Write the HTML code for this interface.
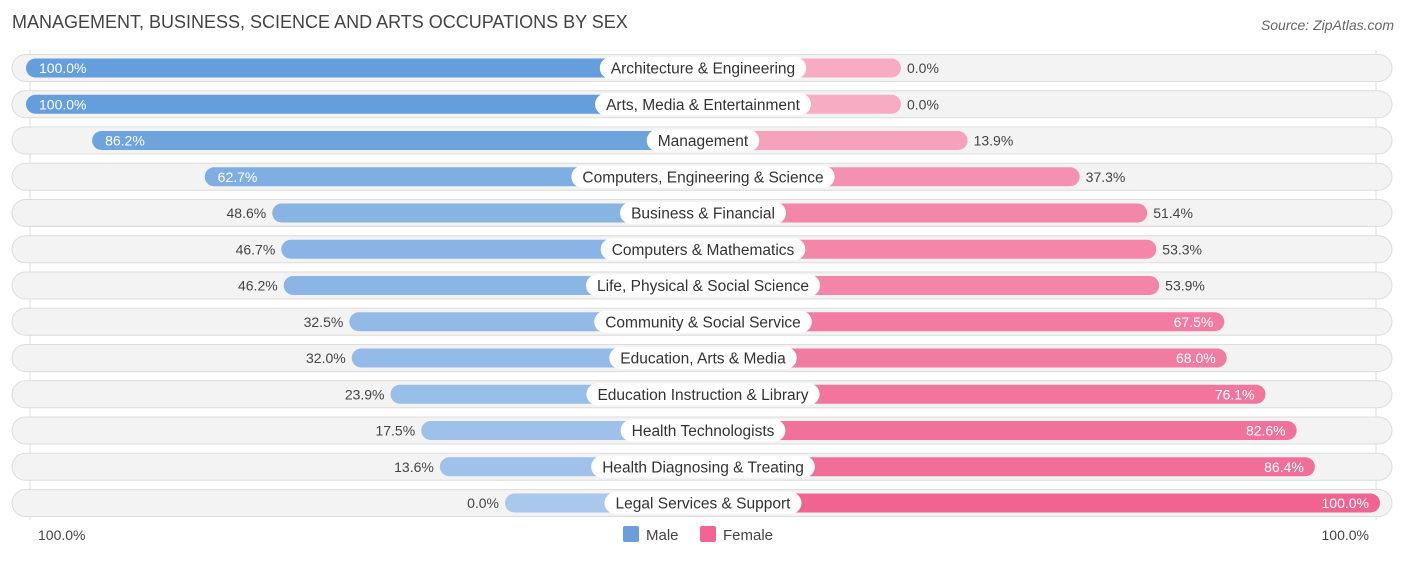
<!DOCTYPE html>
<html><head><meta charset="utf-8"><style>
body{margin:0;background:#fff;font-family:"Liberation Sans",Arial,sans-serif;}
svg text{font-family:"Liberation Sans",Arial,sans-serif;}
</style></head><body>
<svg id="c" width="1406" height="559" xmlns="http://www.w3.org/2000/svg">
<text x="12" y="28" font-size="18" fill="#444">MANAGEMENT, BUSINESS, SCIENCE AND ARTS OCCUPATIONS BY SEX</text>
<text x="1394" y="30" font-size="14" fill="#666" font-style="italic" text-anchor="end">Source: ZipAtlas.com</text>
<line x1="30" y1="50" x2="30" y2="520" stroke="#ddd"/>
<line x1="1376" y1="50" x2="1376" y2="520" stroke="#ddd"/>
<g id="rows"></g>
<text x="38" y="540" font-size="14" fill="#444">100.0%</text>
<text x="1369" y="540" font-size="14" fill="#444" text-anchor="end">100.0%</text>
<rect x="623" y="526" width="16" height="16" rx="2" fill="#6a9fdc"/>
<text x="646" y="540" font-size="15" fill="#444">Male</text>
<rect x="700" y="526" width="16" height="16" rx="2" fill="#f06594"/>
<text x="723" y="540" font-size="15" fill="#444">Female</text>
</svg>
<script>
const categories=["Architecture & Engineering","Arts, Media & Entertainment","Management","Computers, Engineering & Science","Business & Financial","Computers & Mathematics","Life, Physical & Social Science","Community & Social Service","Education, Arts & Media","Education Instruction & Library","Health Technologists","Health Diagnosing & Treating","Legal Services & Support"];
const maleValues=[100.0,100.0,86.2,62.7,48.6,46.7,46.2,32.5,32.0,23.9,17.5,13.6,0.0];
const femaleValues=[0.0,0.0,13.9,37.3,51.4,53.3,53.9,67.5,68.0,76.1,82.6,86.4,100.0];
const NS="http://www.w3.org/2000/svg";
const cx=703, base=198, scale=4.79, y0=68, step=36.25, bh=19;
function ext(v){return base+scale*v;}
function rowY(i){return y0+step*i;}
function mix(a,b,t){return a.map((x,k)=>Math.round(b[k]+(x-b[k])*t));}
function rgb(c){return "rgb("+c.join(",")+")";}
const g=document.getElementById("rows");
function mk(tag,attrs){const e=document.createElementNS(NS,tag);for(const k in attrs)e.setAttribute(k,attrs[k]);g.appendChild(e);return e;}
categories.forEach((cat,i)=>{
  const y=rowY(i);
  const bg=mk("rect",{x:12,y:y-13.5,width:1380,height:27,rx:13.5,fill:"#f3f3f3",stroke:"#dcdcdc"});
  
  
  const m=maleValues[i], f=femaleValues[i];
  const mw=ext(m);
  const mb=mk("rect",{x:cx-mw,y:y-bh/2,width:mw,height:bh,rx:bh/2,fill:rgb(mix([100,158,220],[170,200,236],m/100))});
  
  
  const fw=ext(f);
  const fb=mk("rect",{x:cx,y:y-bh/2,width:fw,height:bh,rx:bh/2,fill:rgb(mix([240,100,146],[247,172,196],f/100))});
  
  
  // labels
  const mt=mk("text",{y:y+5,"font-size":14});
  if(m>=60){mt.setAttribute("x",cx-mw+13);mt.setAttribute("fill","#fff");}
  else{mt.setAttribute("x",cx-mw-6);mt.setAttribute("text-anchor","end");mt.setAttribute("fill","#444");}
  mt.textContent=m.toFixed(1)+"%";
  
  
  const ft=mk("text",{y:y+5,"font-size":14});
  if(f>=60){ft.setAttribute("x",cx+fw-11);ft.setAttribute("text-anchor","end");ft.setAttribute("fill","#fff");}
  else{ft.setAttribute("x",cx+fw+6);ft.setAttribute("fill","#444");}
  ft.textContent=f.toFixed(1)+"%";
  
  
  const lt=mk("text",{x:cx,y:y+5.5,"font-size":15.5,"text-anchor":"middle",fill:"#333"});
  lt.textContent=cat;
  
  
  const w=lt.getComputedTextLength()+22;
  const lb=document.createElementNS(NS,"rect");
  lb.setAttribute("x",cx-w/2);lb.setAttribute("y",y-11);lb.setAttribute("width",w);lb.setAttribute("height",22);lb.setAttribute("rx",11);lb.setAttribute("fill","#fff");
  
  
  g.insertBefore(lb,lt);
});
</script>
</body></html>
